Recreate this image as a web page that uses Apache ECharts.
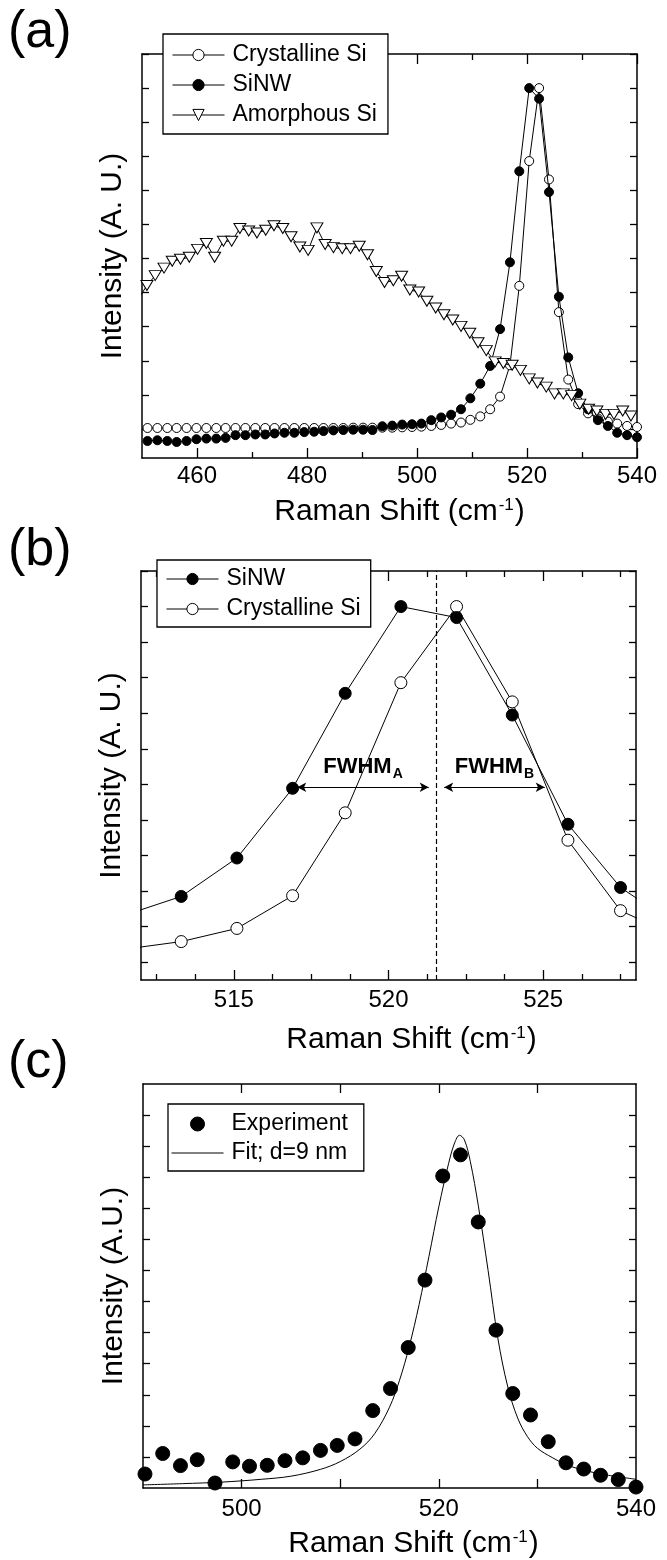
<!DOCTYPE html>
<html>
<head>
<meta charset="utf-8">
<script src="https://cdn.jsdelivr.net/npm/echarts@6/dist/echarts.min.js"></script>
<style>
html,body{margin:0;padding:0;background:#fff;}
#chart{width:667px;height:1560px;}
</style>
</head>
<body>
<div id="chart"></div>
<script>
// ---------------- DATA ----------------
// Raman shift grid shared by Crystalline Si and SiNW spectra (cm^-1)
const gridX = [451.0,452.8,454.6,456.3,458.1,459.9,461.7,463.5,465.2,467.0,468.8,470.6,472.4,474.1,475.9,477.7,479.5,481.3,483.0,484.8,486.6,488.4,490.2,491.9,
  493.7,495.5,497.3,499.1,500.8,502.6,504.4,506.2,508.0,509.7,511.5,513.3,515.1,516.9,518.6,520.4,522.2,524.0,525.8,527.5,529.3,531.1,532.9,534.7,536.4,538.2,540.0];
const crystallineSi = [0.03,0.03,0.03,0.03,0.03,0.03,0.03,0.03,0.03,0.03,0.03,0.03,0.03,0.03,0.03,0.03,0.03,0.03,0.03,0.03,0.03,0.04,0.04,0.04,
  0.04,0.04,0.05,0.06,0.07,0.09,0.12,0.16,0.19,0.27,0.37,0.58,0.95,1.87,4.20,7.86,10.0,7.32,3.43,1.45,0.73,0.46,0.31,0.22,0.16,0.09,0.06];
const siNW = [-0.35,-0.33,-0.35,-0.38,-0.35,-0.30,-0.28,-0.28,-0.26,-0.18,-0.18,-0.16,-0.16,-0.13,-0.11,-0.11,-0.09,-0.08,-0.06,-0.04,-0.03,-0.02,-0.02,-0.03,
  0.08,0.10,0.13,0.14,0.16,0.26,0.34,0.42,0.58,0.90,1.33,1.85,2.93,4.89,7.56,10.0,9.69,6.95,3.88,2.10,1.05,0.58,0.26,0.09,-0.11,-0.18,-0.24];
// Amorphous Si spectrum
const amorphousX = [449.3,450.9,452.4,454.0,455.5,457.0,458.6,460.1,461.7,463.2,464.8,466.3,467.8,469.4,470.9,472.5,474.0,475.6,477.1,478.7,480.2,481.8,483.3,484.8,486.4,487.9,489.5,491.0,492.6,494.1,495.7,497.2,498.7,
  500.3,501.8,503.4,504.9,506.5,508.0,509.6,511.1,512.6,514.2,515.7,517.3,518.8,520.4,521.9,523.5,525.0,526.6,528.1,529.6,531.2,532.7,534.3,535.8,537.4,538.9];
const amorphousSi = [3.81,4.21,4.50,4.72,4.92,4.98,5.04,5.27,5.44,5.04,5.51,5.51,5.88,5.81,5.75,5.83,5.96,5.88,5.64,5.34,5.24,5.90,5.41,5.32,5.29,5.29,5.36,5.11,4.62,4.30,4.35,4.48,4.08,
  4.02,3.75,3.55,3.35,3.20,3.01,2.81,2.53,2.30,1.97,1.92,1.87,1.72,1.47,1.35,1.23,1.03,1.03,0.98,0.73,0.58,0.53,0.43,0.43,0.53,0.38];
// Panel (c): experiment and fit
const expX = [490.2,492.0,493.8,495.5,497.3,499.1,500.8,502.6,504.4,506.2,508.0,509.7,511.5,513.3,515.1,516.9,518.6,520.4,522.2,524.0,525.8,527.5,529.3,531.1,532.9,534.7,536.4,538.2,540.0];
const expY = [0.45,1.11,0.72,0.91,0.16,0.84,0.70,0.73,0.88,0.97,1.21,1.37,1.58,2.49,3.20,4.52,6.69,10.04,10.72,8.56,5.08,3.04,2.35,1.49,0.81,0.61,0.41,0.27,0.03];
const fitX = [490,494,498,502,505,508,510,512,513.5,515,516,517,518,519,520,521,521.6,522.1,522.6,523.2,524,525,526,527,528,529,530,531.5,533,535,537,540];
const fitY = [0.10,0.14,0.19,0.28,0.38,0.60,0.85,1.25,1.75,2.60,3.45,4.55,5.90,7.45,9.05,10.45,11.1,11.35,11.2,10.5,9.1,7.0,4.8,3.25,2.25,1.65,1.28,0.98,0.74,0.55,0.42,0.28];
// Tick values
const ticksA = {major:[460,480,500,520,540], minor:[470,490,510,530], y:[0,1,2,3,4,5,6,7,8,9,10,11]};
const ticksB = {major:[515,520,525], minor:[512.5,513.75,516.25,517.5,518.75,521.25,522.5,523.75,526.25,527.5], y:[0,1,2,3,4,5,6,7,8,9,10,11]};
const ticksC = {labels:[500,520,540], ticks:[500,510,520,530], y:[1,2,3,4,5,6,7,8,9,10,11,12]};
const fwhmLevel = 4.92;
const centerLine = 521.55;

// ---------------- HELPERS ----------------
const FONT = '"Liberation Sans", Arial, Helvetica, sans-serif';
const BLACK = '#000';
const pairs = (xs, ys) => xs.map((x, i) => [x, ys[i]]);
const xTitle = 'Raman Shift (cm{sup|-1})';
function titleStyle(shift) {
  return {fontSize: 30, color: BLACK, fontFamily: FONT, padding: [0, 0, 0, 2 * shift],
    rich: {sup: {fontSize: 17, color: BLACK, fontFamily: FONT, verticalAlign: 'top', padding: [0, 1, 0, 1]}}};
}

function xAxisDef(grid, pos, min, max, tickVals, len, opts) {
  opts = opts || {};
  return {
    type: 'value', gridIndex: grid, position: pos, min: min, max: max,
    axisLine: {show: opts.line !== false, onZero: false, lineStyle: {color: BLACK, width: 1.5}},
    splitLine: {show: false},
    axisTick: {show: true, inside: true, length: len, customValues: tickVals, lineStyle: {color: BLACK, width: 1.3}},
    axisLabel: opts.labels ? {show: true, customValues: opts.labels, fontSize: 24, color: BLACK, fontFamily: FONT, margin: opts.margin || 7} : {show: false},
    name: opts.name || '', nameLocation: 'middle', nameGap: opts.nameGap || 40, nameTextStyle: titleStyle(opts.shift || 0)
  };
}
function yAxisDef(grid, pos, min, max, tickVals, opts) {
  opts = opts || {};
  return {
    type: 'value', gridIndex: grid, position: pos, min: min, max: max,
    axisLine: {show: true, onZero: false, lineStyle: {color: BLACK, width: 1.5}},
    splitLine: {show: false},
    axisTick: {show: true, inside: true, length: 7, customValues: tickVals, lineStyle: {color: BLACK, width: 1.3}},
    axisLabel: {show: false},
    name: opts.name || '', nameLocation: 'middle', nameGap: 14, nameRotate: 90,
    nameTextStyle: {fontSize: 30, color: BLACK, fontFamily: FONT}
  };
}
const openCircle = {color: '#fff', borderColor: BLACK, borderWidth: 1, opacity: 1};
const filled = {color: BLACK, borderColor: BLACK, borderWidth: 1, opacity: 1};
const thin = {color: BLACK, width: 1};
const panelLabel = {fontSize: 52, fontWeight: 'normal', color: BLACK, fontFamily: FONT, lineHeight: 52};

const legendBase = {
  orient: 'vertical', selectedMode: false, backgroundColor: '#fff', borderColor: BLACK, borderWidth: 1.3,
  itemWidth: 52, itemHeight: 14, itemGap: 6,
  textStyle: {fontSize: 23, color: BLACK, fontFamily: FONT, lineHeight: 24, padding: [0,0,0,3]}
};

const option = {
  animation: false,
  backgroundColor: '#fff',
  textStyle: {fontFamily: FONT},
  title: [
    {text: '(a)', left: 8, top: 7, padding: 0, textStyle: panelLabel},
    {text: '(b)', left: 8, top: 525, padding: 0, textStyle: panelLabel},
    {text: '(c)', left: 8, top: 1037, padding: 0, textStyle: panelLabel}
  ],
  grid: [
    {left: 142, right: 30, top: 54, height: 404},
    {left: 141, right: 31, top: 571, height: 409},
    {left: 143, right: 31, top: 1084, height: 404}
  ],
  xAxis: [
    xAxisDef(0, 'bottom', 450, 540, ticksA.major, 10, {labels: ticksA.major, name: xTitle, nameGap: 39, margin: 6, shift: 10}),
    xAxisDef(0, 'bottom', 450, 540, ticksA.minor, 6, {line: false}),
    xAxisDef(0, 'top', 450, 540, ticksA.major, 10),
    xAxisDef(0, 'top', 450, 540, ticksA.minor, 6, {line: false}),
    xAxisDef(1, 'bottom', 512, 528, ticksB.major, 10, {labels: ticksB.major, name: xTitle, nameGap: 45, margin: 8, shift: 23}),
    xAxisDef(1, 'bottom', 512, 528, ticksB.minor, 6, {line: false}),
    xAxisDef(1, 'top', 512, 528, ticksB.major, 10),
    xAxisDef(1, 'top', 512, 528, ticksB.minor, 6, {line: false}),
    xAxisDef(2, 'bottom', 490, 540, ticksC.ticks, 9, {labels: ticksC.labels, name: xTitle, nameGap: 41, margin: 9, shift: 24}),
    xAxisDef(2, 'top', 490, 540, ticksC.ticks, 9)
  ],
  yAxis: [
    yAxisDef(0, 'left', -0.85, 11, ticksA.y, {name: 'Intensity (A. U.)'}),
    yAxisDef(0, 'right', -0.85, 11, ticksA.y),
    yAxisDef(1, 'left', -0.5, 11, ticksB.y, {name: 'Intensity (A. U.)'}),
    yAxisDef(1, 'right', -0.5, 11, ticksB.y),
    yAxisDef(2, 'left', 0, 13, ticksC.y, {name: 'Intensity (A.U.)'}),
    yAxisDef(2, 'right', 0, 13, ticksC.y)
  ],
  legend: [
    Object.assign({}, legendBase, {left: 163, top: 34, padding: [9, 11, 7, 9],
      data: [
        {name: 'Crystalline Si', itemStyle: openCircle, lineStyle: thin},
        {name: 'SiNW', itemStyle: filled, lineStyle: thin},
        {name: 'Amorphous Si', itemStyle: openCircle, lineStyle: thin}
      ]}),
    Object.assign({}, legendBase, {left: 157, top: 560, padding: [7, 10, 6, 9],
      data: [
        {name: 'SiNW', itemStyle: filled, lineStyle: thin},
        {name: 'Crystalline Si', itemStyle: openCircle, lineStyle: thin}
      ]}),
    Object.assign({}, legendBase, {left: 168, top: 1104, padding: [8, 16, 6, 3], itemGap: 5,
      data: [
        {name: 'Experiment', icon: 'circle', itemStyle: filled},
        {name: 'Fit; d=9 nm', itemStyle: {color: 'rgba(0,0,0,0)', borderWidth: 0}, lineStyle: thin}
      ]})
  ],
  series: [
    // (a)
    {name: 'Crystalline Si', type: 'line', xAxisIndex: 0, yAxisIndex: 0, data: pairs(gridX, crystallineSi),
      symbol: 'circle', symbolSize: 9, itemStyle: openCircle, lineStyle: thin, z: 2},
    {name: 'SiNW', type: 'line', xAxisIndex: 0, yAxisIndex: 0, data: pairs(gridX, siNW),
      symbol: 'circle', symbolSize: 9, itemStyle: filled, lineStyle: thin, z: 3},
    {name: 'Amorphous Si', type: 'line', xAxisIndex: 0, yAxisIndex: 0, data: pairs(amorphousX, amorphousSi),
      symbol: 'triangle', symbolRotate: 180, symbolSize: [12, 10], itemStyle: openCircle, lineStyle: thin, z: 4},
    // (b)
    {name: 'Crystalline Si', type: 'line', xAxisIndex: 4, yAxisIndex: 2, data: pairs(gridX, crystallineSi),
      symbol: 'circle', symbolSize: 12, itemStyle: openCircle, lineStyle: thin, z: 2,
      markLine: {silent: true, symbol: 'none', animation: false, label: {show: false},
        lineStyle: {color: BLACK, width: 1.2, type: [5, 3]}, data: [{xAxis: centerLine}]}},
    {name: 'SiNW', type: 'line', xAxisIndex: 4, yAxisIndex: 2, data: pairs(gridX, siNW),
      symbol: 'circle', symbolSize: 12, itemStyle: filled, lineStyle: thin, z: 3,
      markLine: {silent: true, symbol: ['arrow', 'arrow'], symbolSize: [7, 9], animation: false,
        lineStyle: {color: BLACK, width: 1, type: 'solid'},
        label: {show: true, position: 'insideMiddleTop', distance: 9, color: BLACK,
          rich: {a: {fontSize: 22, fontWeight: 'bold', color: BLACK, fontFamily: FONT},
                 s: {fontSize: 14, fontWeight: 'bold', color: BLACK, fontFamily: FONT, verticalAlign: 'bottom', padding: [0, 0, -3, 1]}}},
        data: [
          [{coord: [517.05, fwhmLevel], label: {formatter: '{a|FWHM}{s|A}'}}, {coord: [521.3, fwhmLevel]}],
          [{coord: [521.8, fwhmLevel], label: {formatter: '{a|FWHM}{s|B}'}}, {coord: [525.05, fwhmLevel]}]
        ]}},
    // (c)
    {name: 'Fit; d=9 nm', type: 'line', xAxisIndex: 8, yAxisIndex: 4, data: pairs(fitX, fitY),
      smooth: 0.35, symbol: 'none', lineStyle: thin, itemStyle: {color: BLACK}, z: 2},
    {name: 'Experiment', type: 'scatter', xAxisIndex: 8, yAxisIndex: 4, data: pairs(expX, expY),
      symbol: 'circle', symbolSize: 14, itemStyle: filled, z: 3, clip: true}
  ]
};

const chart = echarts.init(document.getElementById('chart'), null, {renderer: 'canvas'});
chart.setOption(option);
</script>
</body>
</html>
